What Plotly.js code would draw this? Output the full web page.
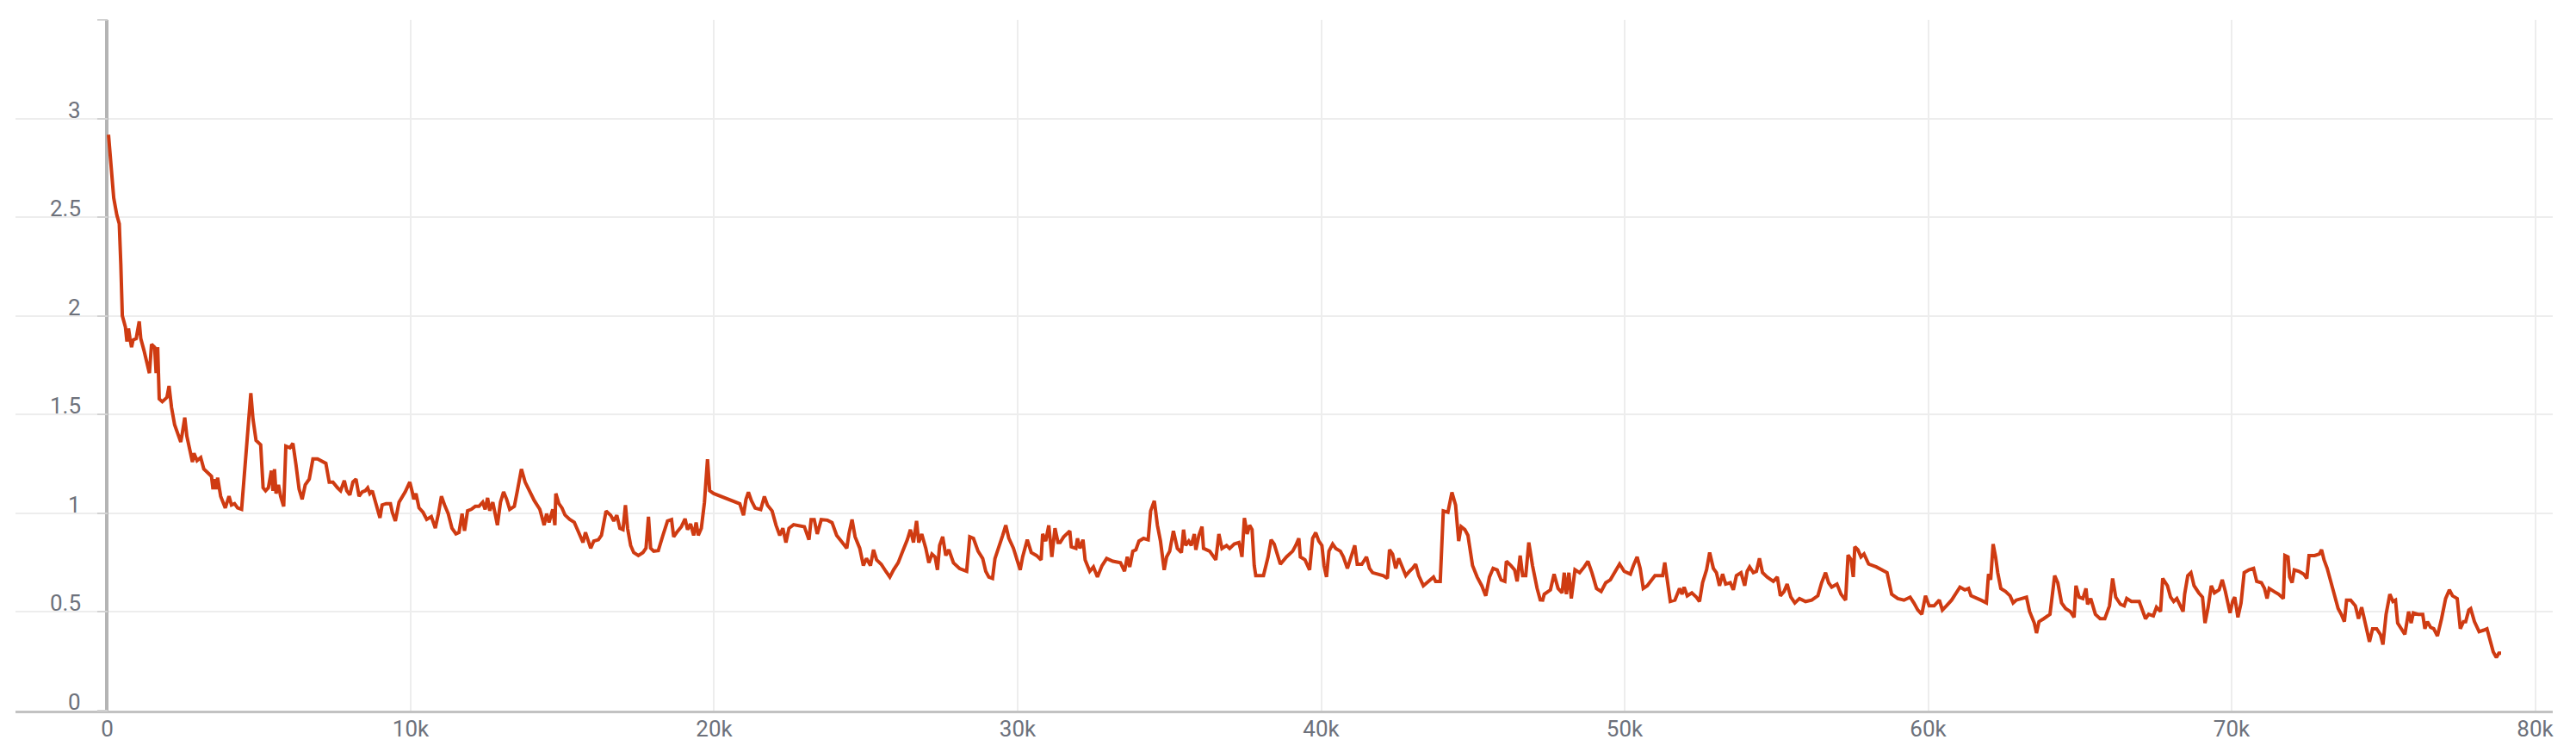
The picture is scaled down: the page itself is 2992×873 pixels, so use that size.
<!DOCTYPE html>
<html>
<head>
<meta charset="utf-8">
<script src="https://cdn.plot.ly/plotly-3.0.1.min.js"></script>
<style>
  html, body { margin: 0; padding: 0; background: #fff; }
  #chart { width: 2992px; height: 873px; }
</style>
</head>
<body>
<div id="chart"></div>
<script>
// training loss curve

const STEPS = [
  45, 145, 216, 318, 399, 450, 500, 551, 602, 652, 703, 753, 804, 855, 956, 1057, 1108, 1210, 1311, 1392,
  1463, 1564, 1614, 1665, 1716, 1817, 1969, 2039, 2121, 2222, 2324, 2425, 2476, 2557, 2627, 2729, 2810, 2861, 2962, 3083,
  3185, 3336, 3438, 3488, 3539, 3589, 3640, 3741, 3893, 4015, 4096, 4197, 4298, 4430, 4552, 4653, 4734, 4805, 4906, 5058,
  5139, 5220, 5311, 5412, 5463, 5514, 5564, 5645, 5716, 5817, 5888, 6020, 6121, 6223, 6324, 6425, 6527, 6659, 6780, 6932,
  7084, 7206, 7317, 7439, 7591, 7692, 7814, 7895, 7996, 8098, 8199, 8300, 8402, 8503, 8584, 8655, 8736, 8807, 8908, 8989,
  9060, 9192, 9334, 9395, 9496, 9618, 9820, 9972, 10043, 10104, 10175, 10276, 10408, 10529, 10681, 10813, 10914, 11015, 11117, 11238,
  11360, 11492, 11593, 11694, 11775, 11876, 11998, 12129, 12251, 12373, 12454, 12535, 12606, 12707, 12859, 12960, 13062, 13163, 13264, 13416,
  13517, 13649, 13771, 13922, 14074, 14256, 14398, 14479, 14560, 14682, 14753, 14783, 14884, 14986, 15087, 15239, 15391,
  15476, 15577, 15679, 15760, 15831, 15932, 16033, 16185, 16286, 16438, 16590, 16692, 16793, 16894, 16996, 17077, 17147, 17249, 17350, 17502,
  17654, 17755, 17836, 17907, 18009, 18160, 18312, 18464, 18596, 18667, 18768, 18920, 19042, 19123, 19224, 19325, 19406, 19477, 19578, 19680,
  19781, 19852, 19984, 20237, 20541, 20845, 20967, 21048, 21129, 21230, 21352, 21534, 21655, 21757, 21909, 22040, 22162, 22263, 22365, 22466,
  22618, 22770, 22972, 23124, 23195, 23296, 23397, 23529, 23732, 23884, 24036, 24188, 24370, 24441, 24543, 24644, 24796, 24917, 25018, 25150,
  25251, 25352, 25504, 25656, 25788, 25910, 26062, 26214, 26365, 26467, 26568, 26669, 26740, 26841, 26973, 27074, 27176, 27277, 27358, 27429,
  27530, 27632, 27733, 27885, 28087, 28320, 28422, 28544, 28696, 28848, 28949, 29050, 29172, 29253, 29405, 29506, 29608, 29709, 29861, 30013,
  30084, 30165, 30317, 30449, 30621, 30773, 30823, 30925, 31026, 31127, 31229, 31330,
  31400, 31515, 31718, 31768, 31920, 31971, 32052, 32153, 32224, 32376, 32497, 32629, 32781, 32933, 33136, 33389, 33521, 33612, 33693, 33794,
  33896, 33997, 34149, 34301, 34382, 34503, 34605, 34706, 34828, 34909, 35010, 35132, 35263, 35395, 35466, 35537, 35638, 35719, 35820, 35871,
  35972, 36074, 36124, 36327, 36529, 36630, 36732, 36884, 36985, 37137, 37289, 37339, 37390, 37471, 37562, 37643, 37724, 37795, 37846, 38099,
  38251, 38352, 38453, 38555, 38656, 38859, 39061, 39163, 39264, 39315, 39467, 39619, 39720, 39821, 39923, 40024, 40095, 40176, 40257, 40379,
  40480, 40632, 40733, 40865, 40987, 41108, 41189, 41341, 41493, 41594, 41696, 41898, 42050, 42182, 42253, 42354, 42455, 42556, 42658, 42789,
  42911, 43013, 43114, 43215, 43367, 43519, 43701, 43772, 43924, 44025, 44177, 44309, 44430, 44532, 44613, 44734, 44836, 44988, 45140, 45292,
  45424, 45545, 45666, 45798, 45930, 46051, 46102, 46254, 46376, 46457, 46558, 46639, 46741, 46842, 46964, 47116, 47218,
  47300, 47351, 47554, 47675, 47807, 47939, 48010, 48081, 48162, 48243, 48364, 48516, 48668, 48790, 48922, 49073, 49225, 49377, 49529, 49681,
  49833, 49985, 50188, 50289, 50411, 50512, 50613, 50745, 50877, 50998, 51251, 51322, 51403, 51504, 51656, 51808, 51889, 51960, 52062, 52214,
  52366, 52467, 52568, 52700, 52801, 52923, 53024, 53125, 53227, 53328, 53480, 53581, 53682, 53834, 53956, 54037, 54118, 54240, 54341, 54442,
  54543, 54696, 54898, 55030, 55131, 55253, 55354, 55476, 55607, 55759, 55962, 56164, 56367, 56489, 56620, 56721, 56823, 56995, 57128, 57280,
  57361, 57462, 57533, 57583, 57684, 57786, 57887, 58039, 58292, 58494, 58646, 58798, 59001, 59203, 59406, 59528, 59659, 59791, 59912, 60034,
  60196, 60368, 60469, 60601, 60773, 60926, 61047, 61209, 61331, 61412, 61584, 61736, 61918, 61989, 62060, 62141, 62222, 62293, 62395, 62547,
  62699, 62800, 62901, 63053,
  63137, 63240, 63343, 63498, 63570, 63653, 63808, 64014, 64169, 64272, 64396, 64530, 64685, 64809, 64871, 64974, 65098, 65201, 65253, 65356,
  65511, 65666, 65820, 65975, 66078, 66181, 66336, 66460, 66543, 66698, 66955, 67079, 67162, 67265, 67420, 67523, 67657, 67729, 67884, 67987,
  68090, 68194, 68297, 68400, 68451, 68555, 68658, 68761, 68916, 69040, 69122, 69225, 69329, 69432, 69586, 69690, 69793, 69948, 70031, 70103,
  70206, 70310, 70413, 70568, 70722, 70826, 70981, 71084, 71166, 71238, 71393, 71548, 71703, 71755, 71858, 71910, 71992, 72064, 72219, 72374,
  72477, 72549, 72735, 72890, 72962, 73044, 73148, 73302, 73405, 73509, 73612, 73715, 73787, 73921, 74076, 74180, 74283, 74407, 74541, 74644,
  74778, 74902, 74985, 75088, 75212, 75315, 75398, 75470, 75604, 75707, 75831, 75914, 75986, 76141, 76296, 76368, 76451, 76554, 76658, 76781,
  76916, 77050, 77174, 77277, 77432, 77535, 77638, 77710, 77814, 77876, 77999, 78154, 78309, 78412, 78515, 78619, 78722, 78805, 78877,
];

const LOSS = [
  2.918, 2.729, 2.598, 2.511, 2.467, 2.263, 2.001, 1.972, 1.943, 1.870, 1.936, 1.885, 1.841, 1.878, 1.885, 1.972, 1.885, 1.827, 1.769, 1.710,
  1.856, 1.841, 1.710, 1.841, 1.579, 1.565, 1.587, 1.645, 1.536, 1.449, 1.405, 1.361, 1.405, 1.485, 1.390, 1.318, 1.260, 1.304, 1.267, 1.282,
  1.224, 1.202, 1.187, 1.122, 1.173, 1.122, 1.180, 1.086, 1.027, 1.086, 1.042, 1.049, 1.027, 1.020, 1.245, 1.478, 1.609, 1.478, 1.369, 1.347,
  1.129, 1.114, 1.129, 1.216, 1.114, 1.224, 1.100, 1.144, 1.086, 1.035, 1.340, 1.332, 1.354, 1.245, 1.122, 1.071, 1.144, 1.173, 1.275, 1.275,
  1.260, 1.253, 1.158, 1.158, 1.129, 1.114, 1.165, 1.114, 1.093, 1.158, 1.173, 1.086, 1.108, 1.114, 1.129, 1.100, 1.114, 1.071, 1.013, 0.977,
  1.042, 1.049, 1.049, 1.005, 0.961, 1.056, 1.108, 1.158, 1.114, 1.071, 1.100, 1.027, 1.005, 0.969, 0.983, 0.925, 0.998, 1.086, 1.042, 0.998,
  0.925, 0.896, 0.903, 0.998, 0.911, 1.013, 1.020, 1.035, 1.035, 1.056, 1.020, 1.078, 1.013, 1.056, 0.940, 1.056, 1.108, 1.071, 1.020, 1.035,
  1.114, 1.224, 1.158, 1.108, 1.064, 1.020, 0.940, 0.998, 0.954, 1.020, 0.940, 1.100, 1.049, 1.027, 0.991, 0.969, 0.954,
  0.924, 0.888, 0.852, 0.903, 0.866, 0.823, 0.859, 0.866, 0.888, 1.011, 0.990, 0.961, 0.990, 0.924, 0.917, 1.041, 0.924, 0.837, 0.801, 0.786,
  0.801, 0.823, 0.982, 0.823, 0.808, 0.811, 0.888, 0.961, 0.968, 0.881, 0.903, 0.932, 0.972, 0.917, 0.946, 0.888, 0.953, 0.888, 0.924, 1.055,
  1.274, 1.114, 1.100, 1.085, 1.067, 1.048, 0.990, 1.070, 1.107, 1.063, 1.026, 1.019, 1.085, 1.041, 1.012, 0.939, 0.888, 0.924, 0.852, 0.924,
  0.942, 0.939, 0.932, 0.866, 0.968, 0.968, 0.895, 0.968, 0.965, 0.953, 0.888, 0.859, 0.823, 0.895, 0.968, 0.881, 0.823, 0.735, 0.771, 0.735,
  0.815, 0.764, 0.742, 0.706, 0.677, 0.713, 0.749, 0.808, 0.866, 0.917, 0.852, 0.961, 0.852, 0.895, 0.823, 0.749, 0.793, 0.779, 0.713, 0.837,
  0.881, 0.786, 0.815, 0.749, 0.720, 0.706, 0.881, 0.873, 0.808, 0.771, 0.706, 0.677, 0.670, 0.771, 0.837, 0.888, 0.939, 0.873, 0.823, 0.749,
  0.713, 0.779, 0.866, 0.801, 0.786, 0.764, 0.895, 0.859, 0.939, 0.779, 0.924, 0.852,
  0.852, 0.880, 0.910, 0.830, 0.822, 0.873, 0.822, 0.866, 0.764, 0.706, 0.728, 0.677, 0.735, 0.771, 0.757, 0.749, 0.706, 0.779, 0.728, 0.808,
  0.815, 0.859, 0.873, 0.866, 1.012, 1.063, 0.939, 0.859, 0.713, 0.779, 0.808, 0.910, 0.822, 0.801, 0.917, 0.837, 0.859, 0.837, 0.895, 0.815,
  0.888, 0.932, 0.822, 0.808, 0.764, 0.895, 0.822, 0.837, 0.822, 0.844, 0.852, 0.822, 0.779, 0.976, 0.895, 0.939, 0.917, 0.735, 0.684, 0.684,
  0.779, 0.866, 0.844, 0.793, 0.742, 0.779, 0.808, 0.837, 0.873, 0.779, 0.764, 0.713, 0.873, 0.902, 0.859, 0.837, 0.735, 0.677, 0.808, 0.844,
  0.822, 0.808, 0.779, 0.721, 0.779, 0.837, 0.742, 0.742, 0.779, 0.721, 0.699, 0.691, 0.684, 0.670, 0.815, 0.793, 0.721, 0.771, 0.735, 0.684,
  0.706, 0.721, 0.742, 0.684, 0.633, 0.655, 0.677, 0.655, 0.655, 1.012, 1.005, 1.106, 1.041, 0.859, 0.932, 0.917, 0.888, 0.735, 0.677, 0.633,
  0.582, 0.677, 0.721, 0.713, 0.662, 0.655, 0.757, 0.735, 0.713, 0.655, 0.786, 0.684, 0.684, 0.852, 0.735, 0.619, 0.561,
  0.560, 0.590, 0.612, 0.692, 0.619, 0.597, 0.699, 0.590, 0.699, 0.568, 0.714, 0.699, 0.728, 0.757, 0.699, 0.619, 0.604, 0.648, 0.663, 0.706,
  0.743, 0.706, 0.692, 0.735, 0.779, 0.721, 0.619, 0.633, 0.663, 0.684, 0.684, 0.750, 0.663, 0.553, 0.560, 0.619, 0.590, 0.626, 0.582, 0.597,
  0.575, 0.553, 0.648, 0.714, 0.801, 0.721, 0.699, 0.633, 0.692, 0.641, 0.648, 0.612, 0.684, 0.699, 0.633, 0.706, 0.728, 0.699, 0.706, 0.772,
  0.699, 0.677, 0.655, 0.677, 0.582, 0.604, 0.641, 0.575, 0.546, 0.568, 0.553, 0.560, 0.582, 0.648, 0.699, 0.648, 0.626, 0.641, 0.590, 0.560,
  0.788, 0.765, 0.677, 0.830, 0.815, 0.779, 0.794, 0.743, 0.728, 0.714, 0.699, 0.590, 0.568, 0.560, 0.575, 0.546, 0.510, 0.488, 0.582, 0.531,
  0.531, 0.560, 0.510, 0.531, 0.560, 0.597, 0.626, 0.612, 0.619, 0.582, 0.568, 0.560, 0.546, 0.692, 0.663, 0.844, 0.779, 0.699, 0.619, 0.604,
  0.582, 0.546, 0.560, 0.568,
  0.568, 0.575, 0.502, 0.444, 0.393, 0.451, 0.466, 0.488, 0.684, 0.648, 0.546, 0.517, 0.502, 0.473, 0.633, 0.575, 0.568, 0.619, 0.539, 0.568,
  0.488, 0.466, 0.466, 0.531, 0.670, 0.575, 0.539, 0.531, 0.568, 0.553, 0.553, 0.502, 0.466, 0.488, 0.480, 0.524, 0.502, 0.670, 0.633, 0.575,
  0.553, 0.568, 0.539, 0.502, 0.590, 0.684, 0.699, 0.633, 0.597, 0.575, 0.444, 0.524, 0.633, 0.597, 0.612, 0.663, 0.604, 0.495, 0.553, 0.575,
  0.473, 0.546, 0.699, 0.713, 0.721, 0.655, 0.648, 0.619, 0.568, 0.619, 0.604, 0.590, 0.568, 0.786, 0.779, 0.677, 0.648, 0.713, 0.706, 0.692,
  0.670, 0.786, 0.786, 0.794, 0.815, 0.764, 0.721, 0.633, 0.582, 0.517, 0.488, 0.451, 0.560, 0.560, 0.531, 0.466, 0.524, 0.430, 0.349, 0.415,
  0.415, 0.386, 0.335, 0.488, 0.590, 0.553, 0.560, 0.444, 0.415, 0.386, 0.502, 0.444, 0.495, 0.488, 0.488, 0.415, 0.451, 0.422, 0.415, 0.378,
  0.466, 0.568, 0.612, 0.582, 0.568, 0.415, 0.451, 0.451, 0.510, 0.517, 0.451, 0.400, 0.408, 0.415, 0.357, 0.298, 0.269, 0.291, 0.291,
];

const X_TICKS = [0, 10000, 20000, 30000, 40000, 50000, 60000, 70000, 80000];
const X_TICK_TEXT = ['0', '10k', '20k', '30k', '40k', '50k', '60k', '70k', '80k'];
const Y_TICKS = [0, 0.5, 1, 1.5, 2, 2.5, 3, 3.5];
const Y_TICK_TEXT = ['0', '0.5', '1', '1.5', '2', '2.5', '3', ''];

const LINE_COLOR = '#cf3b12';
const GRID = '#ededed';
const TICK_FONT = { family: 'Roboto, Arial, sans-serif', size: 26, color: '#6d717b' };

const trace = {
  x: STEPS,
  y: LOSS,
  type: 'scatter',
  mode: 'lines',
  line: { color: LINE_COLOR, width: 4 },
  hoverinfo: 'skip',
};

// y labels sit left of the axis and a little above their grid line,
// so they are placed as annotations rather than regular tick labels
const yLabels = Y_TICKS.map((v, i) => ({
  xref: 'x', yref: 'y',
  x: -800, y: v,
  text: Y_TICK_TEXT[i],
  showarrow: false,
  xanchor: 'right', yanchor: 'middle',
  yshift: 10,
  font: TICK_FONT,
})).filter((a) => a.text !== '');

const layout = {
  width: 2992,
  height: 873,
  margin: { l: 18, r: 27, t: 23, b: 48 },
  paper_bgcolor: '#fff',
  plot_bgcolor: '#fff',
  showlegend: false,
  xaxis: {
    range: [-3020, 80580],
    tickmode: 'array', tickvals: X_TICKS, ticktext: X_TICK_TEXT,
    ticks: '',
    tickfont: TICK_FONT,
    ticklabelstandoff: -4,
    showgrid: true, gridcolor: GRID, gridwidth: 2,
    zeroline: true, zerolinecolor: '#b4b4b4', zerolinewidth: 4,
    showline: true, linecolor: '#c2c2c2', linewidth: 3,
  },
  yaxis: {
    range: [0, 3.5],
    anchor: 'free', position: 106.5 / 2947,
    tickmode: 'array', tickvals: Y_TICKS,
    ticks: 'outside', ticklen: 12, tickwidth: 2, tickcolor: '#d2d2d2',
    showticklabels: false,
    showgrid: true, gridcolor: GRID, gridwidth: 2,
    zeroline: false,
    showline: false,
  },
  annotations: yLabels,
};

Plotly.newPlot('chart', [trace], layout, { staticPlot: true, displayModeBar: false });
</script>
</body>
</html>
